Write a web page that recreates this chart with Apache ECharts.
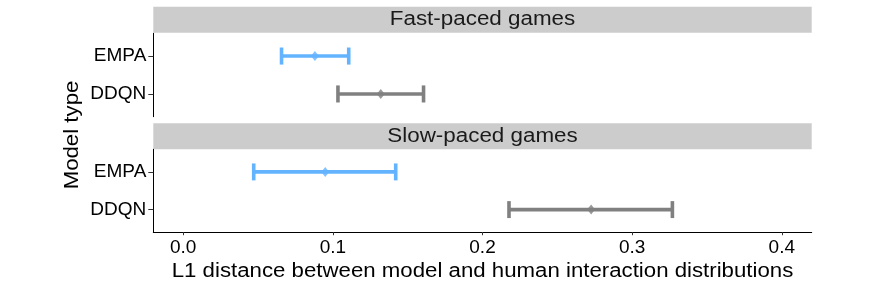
<!DOCTYPE html>
<html>
<head>
<meta charset="utf-8">
<script src="https://cdn.jsdelivr.net/npm/echarts@6/dist/echarts.min.js"></script>
<style>html,body{margin:0;padding:0;background:#fff}#c{width:872px;height:291px}</style>
</head>
<body>
<div id="c"></div>
<script>
// ---- data ----
const panels = ['Fast-paced games', 'Slow-paced games'];
const models = ['EMPA', 'DDQN'];
const fastMean = [0.088, 0.132];
const fastLow  = [0.0657, 0.1034];
const fastHigh = [0.1106, 0.1606];
const slowMean = [0.0949, 0.2726];
const slowLow  = [0.0471, 0.2177];
const slowHigh = [0.142, 0.3269];
const xTicks = [0.0, 0.1, 0.2, 0.3, 0.4];
const xTitle = 'L1 distance between model and human interaction distributions';
const yTitle = 'Model type';

// ---- style ----
const modelColors = ['#63B3FF', '#808080'];
const FONT = 'Liberation Sans, Arial, Helvetica, sans-serif';
const L = 153.3, R = 811.7;
const gridTops = [33.3, 149.3], gridHeights = [83.4, 82.9];
const stripTops = [6.7, 123.3], stripH = 26;

const chart = echarts.init(document.getElementById('c'), null, {renderer: 'canvas'});

function buildSeries(pi, means, lows, highs) {
  const rows = models.map((m, i) => [lows[i], highs[i], i + 1, i]);
  const pts = models.map((m, i) => ({value: [means[i], i + 1], itemStyle: {color: modelColors[i]}}));
  return [
    {
      type: 'custom', xAxisIndex: pi, yAxisIndex: pi,
      encode: {x: [0, 1], y: 2},
      data: rows,
      renderItem: function (params, api) {
        const lo = api.value(0), hi = api.value(1), y = api.value(2), ci = api.value(3);
        const a = api.coord([lo, y]), b = api.coord([hi, y]);
        const a1 = api.coord([lo, y - 0.225]), a2 = api.coord([lo, y + 0.225]);
        const b1 = api.coord([hi, y - 0.225]), b2 = api.coord([hi, y + 0.225]);
        const st = {stroke: modelColors[ci], lineWidth: 3.6, lineCap: 'butt'};
        return {type: 'group', children: [
          {type: 'line', shape: {x1: a[0], y1: a[1], x2: b[0], y2: b[1]}, style: st},
          {type: 'line', shape: {x1: a1[0], y1: a1[1], x2: a2[0], y2: a2[1]}, style: st},
          {type: 'line', shape: {x1: b1[0], y1: b1[1], x2: b2[0], y2: b2[1]}, style: st}
        ]};
      },
      z: 2, silent: true
    },
    {
      type: 'scatter', xAxisIndex: pi, yAxisIndex: pi,
      symbol: 'diamond', symbolSize: [8, 10],
      data: pts, z: 3, silent: true
    }
  ];
}

const xAxes = [0, 1].map(pi => ({
  type: 'value', gridIndex: pi, min: -0.02, max: 0.42,
  splitLine: {show: false},
  axisLine: {show: pi === 1, onZero: false, lineStyle: {color: '#000', width: 1}},
  axisTick: {show: pi === 1, length: 3, customValues: xTicks, lineStyle: {color: '#333'}},
  axisLabel: {show: pi === 1, customValues: xTicks, margin: 6, color: '#000', fontSize: 19, fontFamily: FONT,
    formatter: v => v.toFixed(1)}
}));

const yAxes = [0, 1].map(pi => ({
  type: 'value', gridIndex: pi, min: 0.4, max: 2.6, inverse: true,
  splitLine: {show: false},
  axisLine: {show: true, onZero: false, lineStyle: {color: '#000', width: 1}},
  axisTick: {show: true, length: 5, customValues: [1, 2], lineStyle: {color: '#333'}},
  axisLabel: {customValues: [1, 2], margin: 7, color: '#000', fontSize: 19, fontFamily: FONT,
    formatter: v => models[Math.round(v) - 1] || ''}
}));

const graphics = [];
panels.forEach((p, pi) => {
  graphics.push({type: 'rect', shape: {x: L, y: stripTops[pi], width: R - L, height: stripH},
    style: {fill: '#CCCCCC'}, silent: true});
  graphics.push({type: 'text', x: (L + R) / 2, y: stripTops[pi] + stripH / 2, scaleX: 1.12,
    style: {text: p, fill: '#1a1a1a', font: '20px ' + FONT, textAlign: 'center', textVerticalAlign: 'middle'}, silent: true});
});
graphics.push({type: 'text', x: 72.5, y: 135, rotation: Math.PI / 2, scaleX: 1.14,
  style: {text: yTitle, fill: '#000', font: '19.5px ' + FONT, textAlign: 'center', textVerticalAlign: 'middle'}, silent: true});
graphics.push({type: 'text', x: (L + R) / 2, y: 271.5, scaleX: 1.14,
  style: {text: xTitle, fill: '#000', font: '19.5px ' + FONT, textAlign: 'center', textVerticalAlign: 'middle'}, silent: true});

chart.setOption({
  animation: false,
  backgroundColor: '#fff',
  grid: [0, 1].map(pi => ({left: L, width: R - L, top: gridTops[pi], height: gridHeights[pi], containLabel: false})),
  xAxis: xAxes,
  yAxis: yAxes,
  series: [].concat(buildSeries(0, fastMean, fastLow, fastHigh), buildSeries(1, slowMean, slowLow, slowHigh)),
  graphic: graphics
});
</script>
</body>
</html>
